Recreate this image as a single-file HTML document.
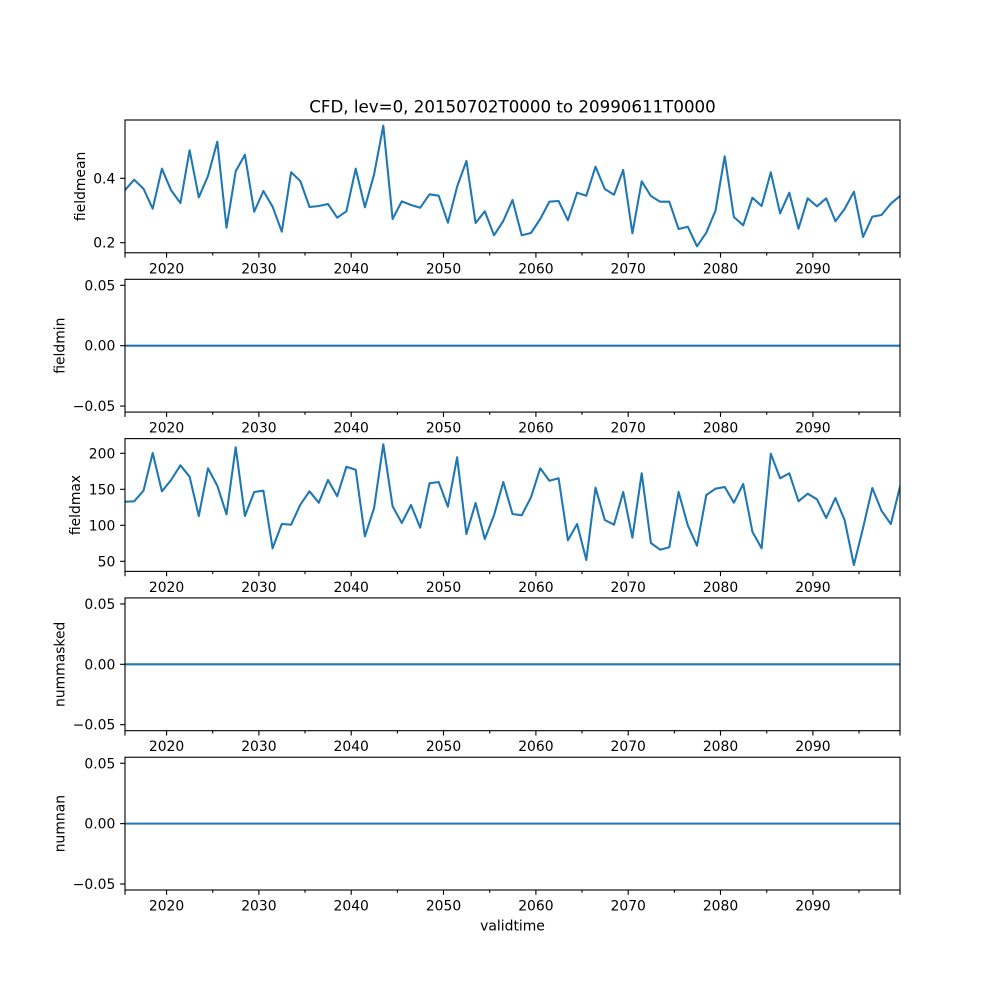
<!DOCTYPE html>
<html><head><meta charset="utf-8"><style>html,body{margin:0;padding:0;background:#fff}svg{display:block}</style></head><body>
<svg width="1000" height="1000" viewBox="0 0 1000 1000" xmlns="http://www.w3.org/2000/svg" font-family="DejaVu Sans, Liberation Sans, sans-serif" font-size="13.9">
<rect width="1000" height="1000" fill="#fff"/>
<defs>
<clipPath id="c1"><rect x="125" y="120" width="775" height="132.76"/></clipPath>
<clipPath id="c3"><rect x="125" y="438.62" width="775" height="132.76"/></clipPath>
</defs>
<text x="512.5" y="112.5" font-size="16.67" text-anchor="middle">CFD, lev=0, 20150702T0000 to 20990611T0000</text>

<!-- Panel 1 -->
<polyline clip-path="url(#c1)" fill="none" stroke="#1f77b4" stroke-width="2.08" stroke-linejoin="round" stroke-linecap="square" points="125.0,190.0 134.2,179.7 143.5,188.7 152.7,208.7 161.9,168.7 171.1,190.3 180.4,203 189.6,150.3 198.8,197.3 208.0,176 217.3,141.7 226.5,227.7 235.7,171.3 244.9,154.7 254.2,211.7 263.4,191 272.6,206.7 281.8,231.7 291.1,172.3 300.3,181 309.5,207 318.8,206 328.0,204 337.2,217.7 346.4,211.3 355.7,168.7 364.9,207.3 374.1,174.3 383.3,125.7 392.6,219 401.8,201.3 411.0,205 420.2,207.7 429.5,194.3 438.7,195.7 447.9,222.7 457.1,186.7 466.4,161 475.6,223 484.8,211.3 494.0,235.3 503.3,221 512.5,200 521.7,235.3 531.0,233 540.2,219 549.4,201.7 558.6,201 567.9,220.3 577.1,192.7 586.3,195.7 595.5,166.7 604.8,189 614.0,194.7 623.2,170 632.4,233.3 641.7,181.3 650.9,196 660.1,201.7 669.3,201.7 678.6,229 687.8,226.7 697.0,246.3 706.3,232.7 715.5,210.7 724.7,156.3 733.9,217 743.2,225.3 752.4,197.7 761.6,206 770.8,172.3 780.1,213.3 789.3,192.7 798.5,228.7 807.7,198.3 817.0,206.3 826.2,198.3 835.4,221.3 844.6,209 853.9,191.7 863.1,237 872.3,216.7 881.5,215 890.8,203.7 900.0,196"/>
<rect x="125" y="120" width="775" height="132.76" fill="none" stroke="#000" stroke-width="1.11"/>
<g stroke="#000" stroke-width="1.11">
<line x1="120.1" y1="178.3" x2="125" y2="178.3"/><line x1="120.1" y1="242.7" x2="125" y2="242.7"/>
</g>
<g text-anchor="end"><text x="115.3" y="183.3">0.4</text><text x="115.3" y="247.7">0.2</text></g>
<text transform="translate(85,186.4) rotate(-90)" text-anchor="middle">fieldmean</text>

<!-- Panel 2 -->
<line x1="125" y1="345.69" x2="900" y2="345.69" stroke="#1f77b4" stroke-width="2.08"/>
<rect x="125" y="279.31" width="775" height="132.76" fill="none" stroke="#000" stroke-width="1.11"/>
<g stroke="#000" stroke-width="1.11">
<line x1="120.1" y1="285.34" x2="125" y2="285.34"/><line x1="120.1" y1="345.69" x2="125" y2="345.69"/><line x1="120.1" y1="406.04" x2="125" y2="406.04"/>
</g>
<g text-anchor="end"><text x="115.3" y="290.3">0.05</text><text x="115.3" y="350.7">0.00</text><text x="115.3" y="411.0">−0.05</text></g>
<text transform="translate(64.5,345.69) rotate(-90)" text-anchor="middle">fieldmin</text>

<!-- Panel 3 -->
<polyline clip-path="url(#c3)" fill="none" stroke="#1f77b4" stroke-width="2.08" stroke-linejoin="round" stroke-linecap="square" points="125.0,501.7 134.2,501.3 143.5,490.7 152.7,453 161.9,491.3 171.1,480 180.4,465.3 189.6,476.7 198.8,516 208.0,468.3 217.3,485.7 226.5,514.3 235.7,447.3 244.9,516 254.2,492 263.4,490.7 272.6,548.3 281.8,524 291.1,524.7 300.3,504.7 309.5,491.3 318.8,502.7 328.0,480 337.2,496.3 346.4,466.7 355.7,469.7 364.9,536.3 374.1,508 383.3,444.3 392.6,506.3 401.8,523 411.0,505 420.2,527.7 429.5,483.3 438.7,482 447.9,506.7 457.1,457.3 466.4,534 475.6,503 484.8,539 494.0,515.3 503.3,482 512.5,514 521.7,515.3 531.0,497.3 540.2,468.3 549.4,480.7 558.6,478.3 567.9,540.3 577.1,524 586.3,560 595.5,487.7 604.8,520 614.0,524.7 623.2,492 632.4,537.7 641.7,473.3 650.9,543 660.1,549.7 669.3,547.3 678.6,492 687.8,525.3 697.0,545.7 706.3,495 715.5,488.7 724.7,487 733.9,502.7 743.2,484 752.4,531.7 761.6,548.3 770.8,453.7 780.1,478.3 789.3,473.3 798.5,501.3 807.7,493.7 817.0,499.3 826.2,518 835.4,498 844.6,520 853.9,565 863.1,527.7 872.3,488 881.5,510.7 890.8,524 900.0,486.7"/>
<rect x="125" y="438.62" width="775" height="132.76" fill="none" stroke="#000" stroke-width="1.11"/>
<g stroke="#000" stroke-width="1.11">
<line x1="120.1" y1="453.3" x2="125" y2="453.3"/><line x1="120.1" y1="489.3" x2="125" y2="489.3"/><line x1="120.1" y1="525.3" x2="125" y2="525.3"/><line x1="120.1" y1="561.3" x2="125" y2="561.3"/>
</g>
<g text-anchor="end"><text x="115.3" y="458.3">200</text><text x="115.3" y="494.3">150</text><text x="115.3" y="530.3">100</text><text x="115.3" y="566.3">50</text></g>
<text transform="translate(80,505) rotate(-90)" text-anchor="middle">fieldmax</text>

<!-- Panel 4 -->
<line x1="125" y1="664.31" x2="900" y2="664.31" stroke="#1f77b4" stroke-width="2.08"/>
<rect x="125" y="597.93" width="775" height="132.76" fill="none" stroke="#000" stroke-width="1.11"/>
<g stroke="#000" stroke-width="1.11">
<line x1="120.1" y1="603.96" x2="125" y2="603.96"/><line x1="120.1" y1="664.31" x2="125" y2="664.31"/><line x1="120.1" y1="724.66" x2="125" y2="724.66"/>
</g>
<g text-anchor="end"><text x="115.3" y="609.0">0.05</text><text x="115.3" y="669.3">0.00</text><text x="115.3" y="729.7">−0.05</text></g>
<text transform="translate(64.5,664.31) rotate(-90)" text-anchor="middle">nummasked</text>

<!-- Panel 5 -->
<line x1="125" y1="823.62" x2="900" y2="823.62" stroke="#1f77b4" stroke-width="2.08"/>
<rect x="125" y="757.24" width="775" height="132.76" fill="none" stroke="#000" stroke-width="1.11"/>
<g stroke="#000" stroke-width="1.11">
<line x1="120.1" y1="763.27" x2="125" y2="763.27"/><line x1="120.1" y1="823.62" x2="125" y2="823.62"/><line x1="120.1" y1="883.97" x2="125" y2="883.97"/>
</g>
<g text-anchor="end"><text x="115.3" y="768.3">0.05</text><text x="115.3" y="828.6">0.00</text><text x="115.3" y="889.0">−0.05</text></g>
<text transform="translate(64.5,823.62) rotate(-90)" text-anchor="middle">numnan</text>

<!-- X axes (repeated per panel) -->
<g id="xax" stroke="#000" stroke-width="1.11">
<line x1="125" y1="252.76" x2="125" y2="257.6"/><line x1="900" y1="252.76" x2="900" y2="257.6"/>
<line x1="166.56" y1="252.76" x2="166.56" y2="257.6"/><line x1="258.88" y1="252.76" x2="258.88" y2="257.6"/><line x1="351.2" y1="252.76" x2="351.2" y2="257.6"/><line x1="443.5" y1="252.76" x2="443.5" y2="257.6"/><line x1="535.9" y1="252.76" x2="535.9" y2="257.6"/><line x1="628.2" y1="252.76" x2="628.2" y2="257.6"/><line x1="720.5" y1="252.76" x2="720.5" y2="257.6"/><line x1="812.9" y1="252.76" x2="812.9" y2="257.6"/>
<line x1="212.7" y1="252.76" x2="212.7" y2="255.5"/><line x1="305.0" y1="252.76" x2="305.0" y2="255.5"/><line x1="397.4" y1="252.76" x2="397.4" y2="255.5"/><line x1="489.7" y1="252.76" x2="489.7" y2="255.5"/><line x1="582.0" y1="252.76" x2="582.0" y2="255.5"/><line x1="674.4" y1="252.76" x2="674.4" y2="255.5"/><line x1="766.7" y1="252.76" x2="766.7" y2="255.5"/><line x1="859.0" y1="252.76" x2="859.0" y2="255.5"/>
</g>
<g id="xlab" text-anchor="middle">
<text x="166.56" y="273.3">2020</text><text x="258.88" y="273.3">2030</text><text x="351.2" y="273.3">2040</text><text x="443.5" y="273.3">2050</text><text x="535.9" y="273.3">2060</text><text x="628.2" y="273.3">2070</text><text x="720.5" y="273.3">2080</text><text x="812.9" y="273.3">2090</text>
</g>
<use href="#xax" transform="translate(0,159.31)"/><use href="#xlab" transform="translate(0,159.31)"/>
<use href="#xax" transform="translate(0,318.62)"/><use href="#xlab" transform="translate(0,318.62)"/>
<use href="#xax" transform="translate(0,477.93)"/><use href="#xlab" transform="translate(0,477.93)"/>
<use href="#xax" transform="translate(0,637.24)"/><use href="#xlab" transform="translate(0,637.24)"/>

<text x="512.5" y="930.5" text-anchor="middle">validtime</text>
</svg>
</body></html>
